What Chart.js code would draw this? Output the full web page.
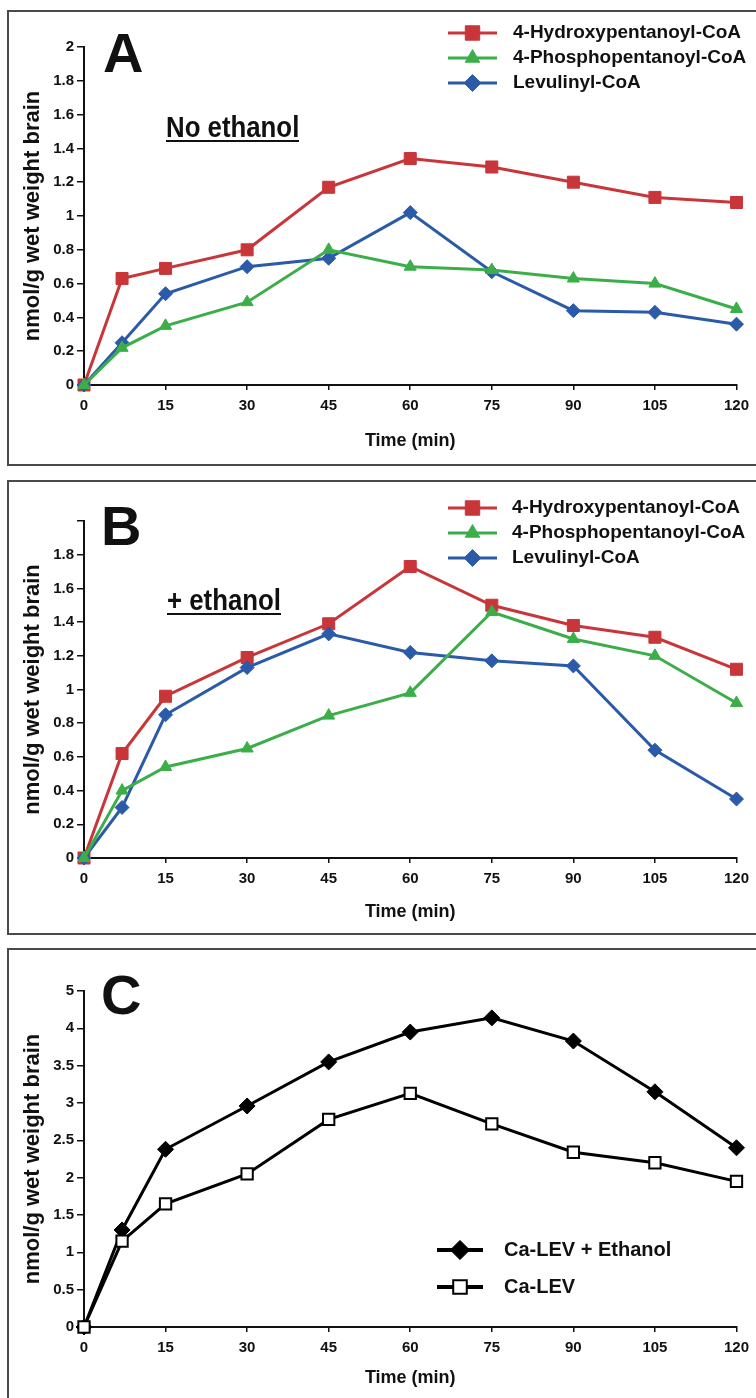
<!DOCTYPE html>
<html>
<head>
<meta charset="utf-8">
<script src="https://cdn.jsdelivr.net/npm/chart.js"></script>
<style>
  body { margin: 0; width: 756px; height: 1398px; overflow: hidden; background: #fff; position: relative; font-family: "Liberation Sans", Arial, sans-serif; color: #111; }
  .box { position: absolute; left: 7px; width: 760px; border: 2px solid #4a4a4a; box-sizing: border-box; }
  canvas { position: absolute; left: 0; }
  .letter { position: absolute; font-weight: bold; font-size: 56px; line-height: 56px; }
  .cond { position: absolute; font-weight: bold; font-size: 30px; line-height: 30px; white-space: nowrap;
          transform: scaleX(0.86); transform-origin: left top;
          text-decoration: underline; text-decoration-thickness: 2px; text-underline-offset: 3px; }
</style>
</head>
<body>
<div class="box" style="top:10px;height:456px"></div>
<div class="box" style="top:480px;height:455px"></div>
<div class="box" style="top:948px;height:460px"></div>

<canvas id="chartA" width="756" height="456" style="top:10px"></canvas>
<canvas id="chartB" width="756" height="455" style="top:480px"></canvas>
<canvas id="chartC" width="756" height="450" style="top:948px"></canvas>

<div class="letter" style="left:103px;top:25px">A</div>
<div class="letter" style="left:101px;top:498px">B</div>
<div class="letter" style="left:101px;top:967px">C</div>
<div class="cond" style="left:166px;top:112px">No ethanol</div>
<div class="cond" style="left:167px;top:585px">+ ethanol</div>

<script>
// sampling times (min)
const minutes = [0, 7, 15, 30, 45, 60, 75, 90, 105, 120];
const xTickLabels = ["0", "15", "30", "45", "60", "75", "90", "105", "120"];

// panel A - no ethanol
const hydroxyA = [0, 0.63, 0.69, 0.8, 1.17, 1.34, 1.29, 1.2, 1.11, 1.08];
const phosphoA = [0, 0.22, 0.35, 0.49, 0.8, 0.7, 0.68, 0.63, 0.6, 0.45];
const levulinylA = [0, 0.25, 0.54, 0.7, 0.75, 1.02, 0.67, 0.44, 0.43, 0.36];
const yTickLabelsA = ["0", "0.2", "0.4", "0.6", "0.8", "1", "1.2", "1.4", "1.6", "1.8", "2"];

// panel B - + ethanol
const hydroxyB = [0, 0.62, 0.96, 1.19, 1.39, 1.73, 1.5, 1.38, 1.31, 1.12];
const phosphoB = [0, 0.4, 0.54, 0.65, 0.845, 0.98, 1.46, 1.3, 1.2, 0.92];
const levulinylB = [0, 0.3, 0.85, 1.13, 1.33, 1.22, 1.17, 1.14, 0.64, 0.35];
const yTickLabelsB = ["0", "0.2", "0.4", "0.6", "0.8", "1", "1.2", "1.4", "1.6", "1.8", ""];

// panel C - Ca-LEV
const caLevEthanol = [0, 1.3, 2.38, 2.96, 3.55, 3.95, 4.14, 3.83, 3.15, 2.4];
const caLev = [0, 1.15, 1.65, 2.05, 2.78, 3.13, 2.72, 2.34, 2.2, 1.95];
const yTickLabelsC = ["0", "0.5", "1", "1.5", "2", "2.5", "3", "3.5", "4", "5"];

const RED = "#c8363a";
const GREEN = "#3cae49";
const BLUE = "#2b5ba8";
const INK = "#111";

Chart.defaults.font.family = "'Liberation Sans', Arial, sans-serif";

function pts(values) {
  return values.map((v, i) => ({ x: minutes[i], y: v }));
}

function series(label, values, color, style, radius, order) {
  return {
    label: label,
    data: pts(values),
    borderColor: color,
    borderWidth: 3,
    pointStyle: style,
    pointRadius: radius,
    pointHoverRadius: radius,
    pointBackgroundColor: color,
    pointBorderColor: color,
    pointBorderWidth: 1,
    clip: false,
    order: order,
  };
}

// legend: short line with the marker in its middle, then the label
const lineLegend = {
  id: "lineLegend",
  afterDraw(chart, args, opts) {
    if (!opts || opts.x0 === undefined) return;
    const ctx = chart.ctx;
    ctx.save();
    chart.data.datasets.forEach((ds, i) => {
      const y = opts.y + i * opts.gap;
      const mx = (opts.x0 + opts.x1) / 2;
      ctx.strokeStyle = ds.borderColor;
      ctx.lineWidth = opts.lineWidth;
      ctx.beginPath();
      ctx.moveTo(opts.x0, y);
      ctx.lineTo(opts.x1, y);
      ctx.stroke();
      ctx.fillStyle = ds.pointBackgroundColor;
      ctx.strokeStyle = ds.pointBorderColor;
      ctx.lineWidth = ds.pointBorderWidth;
      Chart.helpers.drawPoint(ctx, {
        pointStyle: ds.pointStyle,
        radius: ds.pointRadius * opts.scale,
        borderWidth: ds.pointBorderWidth,
        rotation: 0,
      }, mx, y);
      ctx.fillStyle = INK;
      ctx.font = "bold " + opts.fontSize + "px 'Liberation Sans', Arial, sans-serif";
      ctx.textBaseline = "middle";
      ctx.textAlign = "left";
      ctx.fillText(ds.label, opts.textX, y);
    });
    ctx.restore();
  },
};

function makeChart(id, datasets, cfg) {
  return new Chart(document.getElementById(id), {
    type: "line",
    data: { datasets: datasets },
    plugins: [lineLegend],
    options: {
      responsive: false,
      animation: false,
      devicePixelRatio: 1,
      layout: { padding: { top: cfg.top, right: 19, left: 0, bottom: 0 } },
      plugins: {
        legend: { display: false },
        tooltip: { enabled: false },
        lineLegend: cfg.legend,
      },
      scales: {
        x: {
          type: "linear",
          min: 0,
          max: 120,
          afterFit: (s) => { s.height = cfg.xHeight; },
          ticks: {
            stepSize: 15,
            autoSkip: false,
            maxRotation: 0,
            padding: 7,
            color: INK,
            font: { size: 15, weight: "bold" },
            callback: (v, i) => xTickLabels[i],
          },
          grid: { drawOnChartArea: false, drawTicks: true, tickLength: 5, color: INK, lineWidth: 1.5 },
          border: { display: true, color: INK, width: 2 },
          title: {
            display: true,
            text: "Time (min)",
            color: INK,
            font: { size: 18, weight: "bold" },
            padding: { top: 0, bottom: cfg.xTitlePad },
          },
        },
        y: {
          min: 0,
          max: cfg.yMax,
          afterFit: (s) => { s.width = 84; },
          ticks: {
            stepSize: cfg.yStep,
            autoSkip: false,
            padding: 3,
            color: INK,
            font: { size: 15, weight: "bold" },
            callback: (v, i) => cfg.yLabels[i],
          },
          grid: { drawOnChartArea: false, drawTicks: true, tickLength: 7, color: INK, lineWidth: 1.5 },
          border: { display: true, color: INK, width: 2 },
          title: {
            display: true,
            text: "nmol/g wet weight brain",
            color: INK,
            font: { size: 22, weight: "bold" },
            padding: { top: 20, bottom: 0 },
          },
        },
      },
    },
  });
}

makeChart("chartA", [
  series("4-Hydroxypentanoyl-CoA", hydroxyA, RED, "rect", 8.5, 2),
  series("4-Phosphopentanoyl-CoA", phosphoA, GREEN, "triangle", 7, 0),
  series("Levulinyl-CoA", levulinylA, BLUE, "rectRot", 7, 1),
], {
  top: 37, xHeight: 81, xTitlePad: 14, yMax: 2, yStep: 0.2, yLabels: yTickLabelsA,
  legend: { x0: 448, x1: 497, textX: 513, y: 23, gap: 25, lineWidth: 3, scale: 1.2, fontSize: 19 },
});

makeChart("chartB", [
  series("4-Hydroxypentanoyl-CoA", hydroxyB, RED, "rect", 8.5, 2),
  series("4-Phosphopentanoyl-CoA", phosphoB, GREEN, "triangle", 7, 0),
  series("Levulinyl-CoA", levulinylB, BLUE, "rectRot", 7, 1),
], {
  top: 41, xHeight: 77, xTitlePad: 12, yMax: 2, yStep: 0.2, yLabels: yTickLabelsB,
  legend: { x0: 448, x1: 497, textX: 512, y: 28, gap: 25, lineWidth: 3, scale: 1.2, fontSize: 19 },
});

const evDs = series("Ca-LEV + Ethanol", caLevEthanol, "#000", "rectRot", 8, 1);
const levDs = series("Ca-LEV", caLev, "#000", "rect", 8, 0);
levDs.pointBackgroundColor = "#fff";
levDs.pointBorderWidth = 2;

makeChart("chartC", [evDs, levDs], {
  top: 43, xHeight: 71, xTitlePad: 9, yMax: 4.5, yStep: 0.5, yLabels: yTickLabelsC,
  legend: { x0: 437, x1: 483, textX: 504, y: 302, gap: 37, lineWidth: 4, scale: 1.2, fontSize: 20 },
});
</script>
</body>
</html>
